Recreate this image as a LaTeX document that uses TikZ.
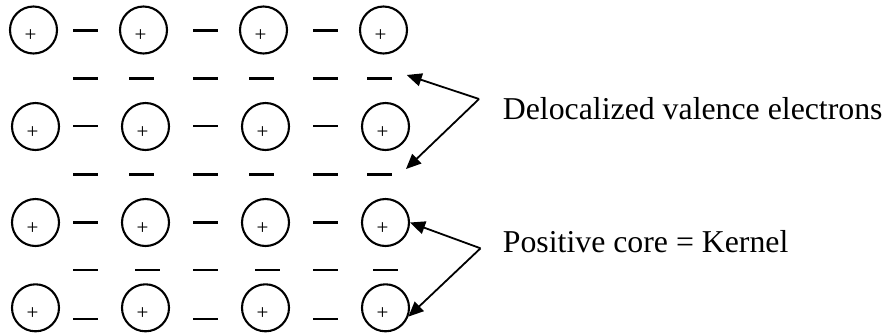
\documentclass[tikz,border=0pt]{standalone}
\usepackage{fontspec}
\setmainfont{Liberation Serif}
\usetikzlibrary{arrows.meta}
\begin{document}
\begin{tikzpicture}[x=1pt,y=-1pt,
  core/.style={circle,draw,line width=2.1pt,minimum size=47pt,inner sep=0pt},
  plussign/.style={inner sep=0pt,font=\fontsize{21}{21}\selectfont},
  elec/.style={rectangle,fill=black,minimum width=25pt,minimum height=2.8pt,inner sep=0pt},
  ptr/.style={line width=1.8pt,-{Triangle[length=15pt,width=13pt]}},
  lbl/.style={anchor=base west,inner sep=0pt,font=\fontsize{31.8}{38}\selectfont}]
\useasboundingbox (0,0) rectangle (886,333);
% cores
\node[core] (c11) at (33.5,30) {};
\node[core] (c12) at (143.5,30) {};
\node[core] (c13) at (263.5,30) {};
\node[core] (c14) at (383.5,30) {};
\foreach \r/\y in {2/126.5,3/222.5,4/307.8}{
  \node[core] (c\r1) at (35.5,\y) {};
  \node[core] (c\r2) at (145.5,\y) {};
  \node[core] (c\r3) at (265.5,\y) {};
  \node[core] (c\r4) at (385.5,\y) {};
}
\foreach \r in {1,2,3,4}{
  \foreach \c in {1,2,3,4}{
    \node[plussign] (p\r\c) at ([xshift=-3pt,yshift=-6pt]c\r\c.center) {+};
  }
}
% electrons between cores in rows
\foreach \r/\y in {1/30.7,2/126,3/222.3,4/319}{
  \node[elec] (r\r a) at (85.5,\y) {};
  \node[elec] (r\r b) at (205.5,\y) {};
  \node[elec] (r\r c) at (325.5,\y) {};
}
% electrons between rows
\foreach \r/\y in {1/78.7,2/174.3}{
  \node[elec] (m\r a) at (85.5,\y) {};
  \node[elec] (m\r b) at (141.5,\y) {};
  \node[elec] (m\r c) at (205.5,\y) {};
  \node[elec] (m\r d) at (261.5,\y) {};
  \node[elec] (m\r e) at (325.5,\y) {};
  \node[elec] (m\r f) at (379.5,\y) {};
}
\node[elec] (m3a) at (85.5,270) {};
\node[elec] (m3b) at (147.5,270) {};
\node[elec] (m3c) at (205.5,270) {};
\node[elec] (m3d) at (267.5,270) {};
\node[elec] (m3e) at (325.5,270) {};
\node[elec] (m3f) at (385.5,270) {};
% labels
\node[lbl] (deloc) at (502.7,119) {Delocalized valence electrons};
\node[lbl] (kern) at (502.7,252.3) {Positive core = Kernel};
% arrows
\coordinate (ap1) at (479,99);
\coordinate (ap2) at (480.5,248.3);
\coordinate (t1) at (406.7,75);
\coordinate (t2) at (406,169);
\draw[ptr] (ap1) -- (t1);
\draw[ptr] (ap1) -- (t2);
\draw[ptr] (ap2) -- (c34.east);
\draw[ptr] (ap2) -- (c44.-21);
\end{tikzpicture}
\end{document}
